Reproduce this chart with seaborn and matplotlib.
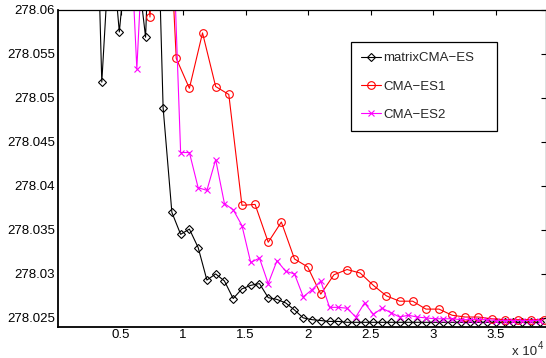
"""
Convergence curves of matrixCMA-ES / CMA-ES1 / CMA-ES2 (MATLAB-style figure)
"""

import matplotlib
matplotlib.use("Agg")
import matplotlib.pyplot as plt
import pandas as pd
import seaborn as sns
from matplotlib.ticker import FuncFormatter

sns.set_theme(style="white")
plt.rcParams['font.family'] = ['Liberation Sans', 'DejaVu Sans']
plt.rcParams['axes.unicode_minus'] = False

# ---- data (x = function evaluations) ----
black_x = [2800, 3500, 4200, 4900, 5600, 6300, 7000, 7700, 8400, 9100,
           9800, 10500, 11200, 11900, 12600, 13300, 14000, 14700, 15400, 16100,
           16800, 17500, 18200, 18900, 19600, 20300, 21000, 21700, 22400, 23100,
           23800, 24500, 25200, 25900, 26600, 27300, 28000, 28700, 29400, 30100,
           30800, 31500, 32200, 32900, 33600, 34300, 35000, 35700, 36400, 37100,
           37800, 38500]
black_y = [278.088, 278.0518, 278.069, 278.0575, 278.068, 278.0655, 278.0569, 278.085, 278.0489, 278.0370,
           278.0345, 278.0351, 278.0330, 278.0293, 278.0300, 278.0292, 278.0272, 278.0283, 278.0287, 278.0289,
           278.0273, 278.0271, 278.0267, 278.0259, 278.0250, 278.0248, 278.0247, 278.0246, 278.0246, 278.0245,
           278.0245, 278.0245, 278.0245, 278.0245, 278.0245, 278.0245, 278.0245, 278.0245, 278.0245, 278.0245,
           278.0245, 278.0245, 278.0245, 278.0245, 278.0245, 278.0245, 278.0245, 278.0245, 278.0245, 278.0245,
           278.0245, 278.0245]

red_x = [6300, 7350, 8400, 9450, 10500, 11550, 12600, 13650, 14700, 15750,
         16800, 17850, 18900, 19950, 21000, 22050, 23100, 24150, 25200, 26250,
         27300, 28350, 29400, 30450, 31500, 32550, 33600, 34650, 35700, 36750,
         37800, 38850]
red_y = [278.080, 278.0592, 278.085, 278.0545, 278.0511, 278.0574, 278.0513, 278.0504, 278.0378, 278.0379,
         278.0336, 278.0359, 278.0317, 278.0308, 278.0277, 278.0299, 278.0305, 278.0301, 278.0287, 278.0275,
         278.0269, 278.0269, 278.0260, 278.0260, 278.0253, 278.0251, 278.0251, 278.0249, 278.0248, 278.0248,
         278.0248, 278.0248]

magenta_x = [5600, 6300, 7000, 7700, 8400, 9100, 9800, 10500, 11200, 11900,
             12600, 13300, 14000, 14700, 15400, 16100, 16800, 17500, 18200, 18900,
             19600, 20300, 21000, 21700, 22400, 23100, 23800, 24500, 25200, 25900,
             26600, 27300, 28000, 28700, 29400, 30100, 30800, 31500, 32200, 32900,
             33600, 34300, 35000, 35700, 36400, 37100, 37800, 38500]
magenta_y = [278.0745, 278.0533, 278.0735, 278.080, 278.078, 278.072, 278.0438, 278.0438, 278.0398, 278.0395,
             278.0430, 278.0380, 278.0373, 278.0355, 278.0313, 278.0318, 278.0289, 278.0315, 278.0303, 278.0300,
             278.0274, 278.0282, 278.0292, 278.0262, 278.0262, 278.0261, 278.0251, 278.0267, 278.0254, 278.0261,
             278.0256, 278.0251, 278.0253, 278.0251, 278.0250, 278.0249, 278.0249, 278.0249, 278.0248, 278.0248,
             278.0248, 278.0248, 278.0247, 278.0247, 278.0247, 278.0247, 278.0247, 278.0247]

labels = ['matrixCMA\u2212ES', 'CMA\u2212ES1', 'CMA\u2212ES2']
x_ticks = [5000, 10000, 15000, 20000, 25000, 30000, 35000]
y_ticks = [278.025, 278.03, 278.035, 278.04, 278.045, 278.05, 278.055, 278.06]

W, H = 546, 358
fig = plt.figure(figsize=(W / 100, H / 100), dpi=100)
ax = fig.add_axes([58 / W, (H - 326.7) / H, (W - 58) / W, (326.7 - 10) / H])

series = [
    (black_x, black_y, '#000000', 'D', 4.0),
    (red_x, red_y, '#ff0000', 'o', 5.5),
    (magenta_x, magenta_y, '#ff00ff', 'x', 3.8),
]
handles = []
for (xs, ys, color, marker, ms), label in zip(series, labels):
    df = pd.DataFrame({'evals': xs, 'f': ys})
    sns.lineplot(data=df, x='evals', y='f', ax=ax, color=color,
                 marker=marker, markersize=ms, mfc='none', mec=color, mew=0.8,
                 lw=0.8, estimator=None, sort=False, legend=False)
    handles.append(ax.lines[-1])

ax.set_xlim(0, 39000)
ax.set_ylim(278.024, 278.06)
ax.set_xlabel('')
ax.set_ylabel('')
ax.set_xticks(x_ticks)
ax.set_yticks(y_ticks)
ax.xaxis.set_major_formatter(FuncFormatter(lambda v, p: '%g' % (v / 1e4)))
ax.yaxis.set_major_formatter(FuncFormatter(lambda v, p: '%g' % round(v, 4)))
ax.tick_params(direction='in', length=3.6, width=0.8, top=True, right=True,
               labelsize=9.5, pad=2, colors='black')
for s in ax.spines.values():
    s.set_color('black')
    s.set_linewidth(0.9)
ax.spines['left'].set_linewidth(1.3)
ax.spines['bottom'].set_linewidth(1.3)

leg = ax.legend(handles, labels, loc='upper left', mode='expand',
                bbox_to_anchor=(350.7 / W, 1 - 127.3 / H, (497.3 - 350.7) / W, (127.3 - 41.7) / H),
                bbox_transform=fig.transFigure, borderaxespad=0, fontsize=9.5,
                fancybox=False, framealpha=1, edgecolor='black',
                borderpad=0.8, labelspacing=1.2, handlelength=1.5, handletextpad=0.15)
leg.get_frame().set_linewidth(0.9)

fig.text(512 / W, (H - 352) / H, 'x 10', fontsize=9.5, va='center', ha='left')
fig.text(538 / W, (H - 346) / H, '4', fontsize=7, va='center', ha='left')

fig.savefig('out.png', dpi=100, facecolor='white')
